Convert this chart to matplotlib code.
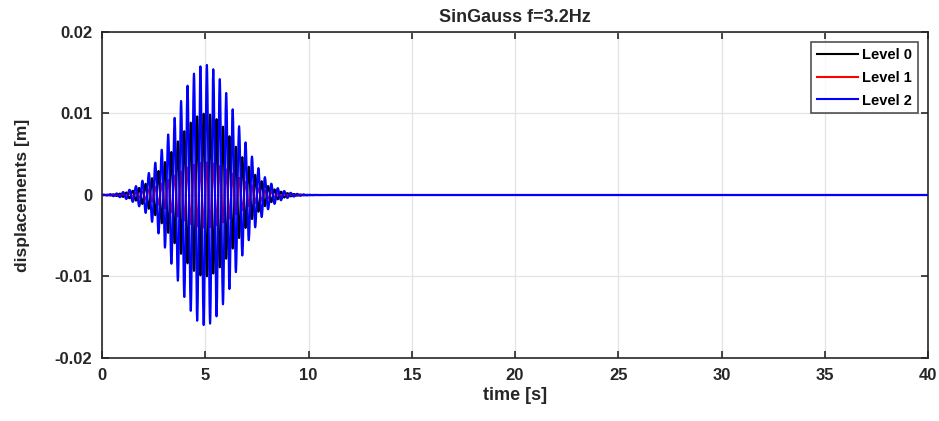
import numpy as np
import matplotlib.pyplot as plt

plt.rcParams['font.family'] = ['Liberation Sans', 'DejaVu Sans']
plt.rcParams['font.weight'] = 'bold'

# signal parameters
freq = 3.2            # Hz (from title)
t_center = 5.0        # s, envelope peak
t_sigma = 1.45        # s, envelope width
levels = ['Level 0', 'Level 1', 'Level 2']
peak_amp = [0.010, 0.004, 0.016]   # m
phase_sign = [-1, 1, 1]            # level 0 swings opposite to level 2
line_colors = ['black', 'red', 'blue']

x_ticks = [0, 5, 10, 15, 20, 25, 30, 35, 40]
y_ticks = [-0.02, -0.01, 0, 0.01, 0.02]
y_tick_labels = ['-0.02', '-0.01', '0', '0.01', '0.02']

t = np.arange(0, 40.0001, 0.005)
envelope = np.exp(-(t - t_center) ** 2 / (2 * t_sigma ** 2))
carrier = np.sin(2 * np.pi * freq * t)

fig = plt.figure(figsize=(9.39, 4.21), dpi=100)
ax = fig.add_axes([102 / 939, 1 - 358 / 421, 826 / 939, 326 / 421])

for i in range(3):
    ax.plot(t, phase_sign[i] * peak_amp[i] * envelope * carrier,
            color=line_colors[i], lw=1.5, label=levels[i])

ax.set_xlim(0, 40)
ax.set_ylim(-0.02, 0.02)
ax.set_xticks(x_ticks)
ax.set_yticks(y_ticks)
ax.set_yticklabels(y_tick_labels)
ax.grid(True, color='#e3e3e3', lw=0.9)
ax.set_axisbelow(True)
ax.tick_params(direction='in', top=True, right=True, length=5, width=1.2,
               labelsize=12, colors='#262626', pad=7)
for sp in ax.spines.values():
    sp.set_color('#262626')
    sp.set_linewidth(1.2)

ax.set_xlabel('time [s]', fontsize=13, fontweight='bold', color='#262626', labelpad=3)
ax.set_ylabel('displacements [m]', fontsize=12.5, fontweight='bold', color='#262626', labelpad=18)
ax.set_title('SinGauss f=3.2Hz', fontsize=13, fontweight='bold', color='#262626', pad=7)

leg = ax.legend(loc='upper right', fontsize=10.5, frameon=True, fancybox=False,
                handlelength=2.8, borderaxespad=0.7, labelspacing=0.6,
                handletextpad=0.3, borderpad=0.4)
leg.get_frame().set_edgecolor('#262626')
leg.get_frame().set_linewidth(1.2)

fig.savefig('out.png', dpi=100)
